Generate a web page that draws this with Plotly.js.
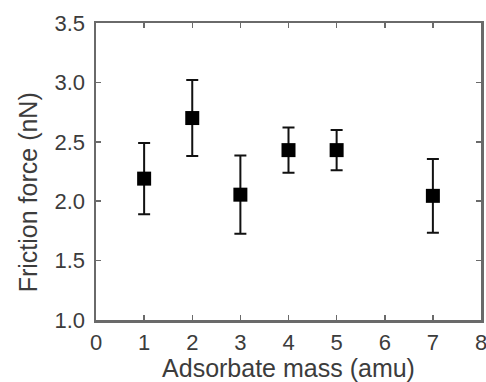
<!DOCTYPE html>
<html>
<head>
<script src="https://cdn.plot.ly/plotly-3.0.1.min.js"></script>
<style>html,body{margin:0;padding:0;background:#fff;}</style>
</head>
<body>
<div id="chart" style="width:486px;height:382px;"></div>
<script>
const mass = [1, 2, 3, 4, 5, 7];
const friction = [2.19, 2.70, 2.055, 2.43, 2.43, 2.045];
const errorBar = [0.30, 0.32, 0.33, 0.19, 0.17, 0.31];
const xTicks = [0, 1, 2, 3, 4, 5, 6, 7, 8];
const yTicks = [1.0, 1.5, 2.0, 2.5, 3.0, 3.5];
const xTitle = 'Adsorbate mass (amu)';
const yTitle = 'Friction force (nN)';

const axisColor = '#6a6a6a';
const textColor = '#3c3c3c';
const fontFam = 'Liberation Sans, Arial, sans-serif';

const trace = {
  x: mass, y: friction, type: 'scatter', mode: 'markers',
  marker: {symbol: 'square', size: 14, color: '#000'},
  error_y: {type: 'data', array: errorBar, visible: true, color: '#111', thickness: 2, width: 6}
};

const layout = {
  width: 486, height: 382,
  margin: {l: 96, r: 5, t: 23, b: 62},
  paper_bgcolor: '#fff', plot_bgcolor: '#fff',
  showlegend: false,
  font: {family: fontFam, color: textColor, size: 22},
  xaxis: {
    range: [0, 8], tickvals: xTicks, ticktext: xTicks.map(String),
    ticks: 'inside', ticklen: 5, tickwidth: 1.5, tickcolor: axisColor,
    showline: true, linecolor: axisColor, linewidth: 2.5, mirror: 'ticks',
    showgrid: false, zeroline: false,
    tickfont: {size: 22, color: textColor, family: fontFam},
    ticklabelstandoff: 1, ticklabeloverflow: 'allow',
    title: {text: xTitle, font: {size: 25, color: textColor, family: fontFam}, standoff: 3}
  },
  yaxis: {
    range: [1.0, 3.5], tickvals: yTicks, ticktext: yTicks.map(v => v.toFixed(1)),
    ticks: 'inside', ticklen: 5, tickwidth: 1.5, tickcolor: axisColor,
    showline: true, linecolor: axisColor, linewidth: 2.5, mirror: 'ticks',
    showgrid: false, zeroline: false,
    tickfont: {size: 22, color: textColor, family: fontFam},
    ticklabelstandoff: 4, ticklabeloverflow: 'allow'
  },
  annotations: [{
    text: yTitle, textangle: -90, showarrow: false,
    xref: 'paper', yref: 'paper', x: -0.1766, y: 0.43,
    xanchor: 'center', yanchor: 'middle',
    font: {size: 25, color: textColor, family: fontFam}
  }]
};

Plotly.newPlot('chart', [trace], layout, {displayModeBar: false, staticPlot: true});
</script>
</body>
</html>
